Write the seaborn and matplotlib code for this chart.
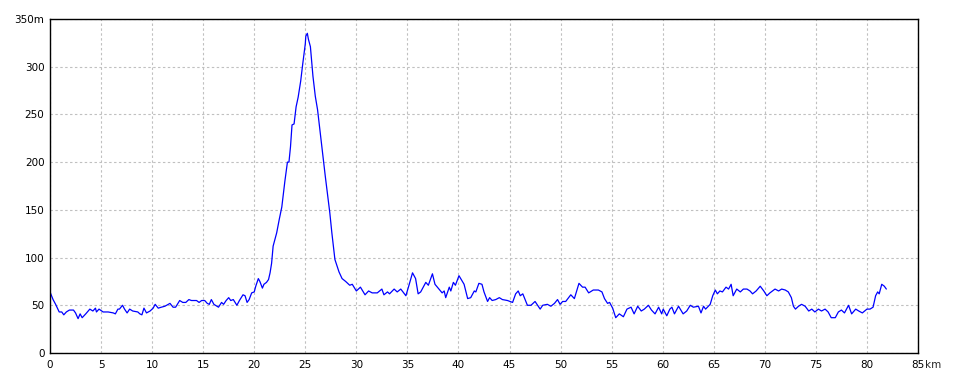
import matplotlib
matplotlib.use("Agg")
import matplotlib.pyplot as plt
import seaborn as sns
import pandas as pd

distance_km = [
    0, 0.3, 0.55, 0.9, 1.15, 1.35, 1.6, 1.9, 2.3, 2.5, 2.75, 2.95, 3.15, 3.5, 3.9, 4.2, 4.45, 4.55, 4.8, 5.2,
    5.7, 6.2, 6.4, 6.65, 6.8, 7.1, 7.3, 7.55, 7.8, 8.1, 8.6, 8.8, 9.0, 9.2, 9.45, 9.8, 10.1, 10.3, 10.6, 10.9,
    11.25, 11.75, 12.05, 12.3, 12.7, 13.0, 13.3, 13.6, 13.85, 14.35, 14.6, 14.85, 15.15, 15.4, 15.6, 15.8, 16.05, 16.5, 16.8, 17.0,
    17.25, 17.5, 17.7, 17.95, 18.3, 18.55, 18.9, 19.1, 19.3, 19.5, 19.75, 20.0, 20.15, 20.4, 20.55, 20.8, 20.95, 21.2, 21.4, 21.55,
    21.7, 21.85, 22.2, 22.45, 22.7, 22.85, 23.0, 23.25, 23.4, 23.55, 23.7, 23.9, 24.1, 24.3, 24.55, 24.75, 25.0, 25.05, 25.2, 25.3,
    25.5, 25.75, 25.98, 26.2, 26.47, 26.73, 26.96, 27.2, 27.4, 27.6, 27.9, 28.3, 28.6, 28.95, 29.35, 29.6, 30.0, 30.4, 30.85, 31.2,
    31.55, 32.05, 32.5, 32.7, 33.05, 33.25, 33.7, 34.0, 34.35, 34.85, 35.1, 35.5, 35.8, 36.05, 36.3, 36.8, 37.05, 37.45, 37.7, 38.25,
    38.4, 38.6, 38.75, 39.1, 39.25, 39.5, 39.7, 40.05, 40.55, 40.9, 41.2, 41.55, 41.7, 42.0, 42.3, 42.5, 42.85, 43.05, 43.3, 43.65,
    44.0, 44.3, 44.8, 45.3, 45.6, 45.85, 46.05, 46.3, 46.75, 47.1, 47.5, 47.75, 48.0, 48.25, 48.7, 49.05, 49.4, 49.7, 49.95, 50.2,
    50.5, 51.0, 51.35, 51.8, 52.15, 52.4, 52.75, 53.2, 53.7, 54.05, 54.3, 54.6, 54.8, 55.1, 55.4, 55.75, 56.15, 56.5, 56.9, 57.2,
    57.55, 57.9, 58.2, 58.6, 58.9, 59.25, 59.6, 59.9, 60.05, 60.4, 60.7, 60.9, 61.15, 61.55, 62.0, 62.35, 62.7, 63.0, 63.5, 63.75,
    64.0, 64.2, 64.65, 64.9, 65.15, 65.35, 65.6, 65.85, 66.2, 66.45, 66.7, 66.9, 67.25, 67.6, 67.9, 68.25, 68.55, 68.8, 69.15, 69.55,
    69.9, 70.2, 70.5, 71.0, 71.35, 71.65, 72.0, 72.3, 72.6, 72.8, 73.0, 73.3, 73.6, 73.95, 74.3, 74.6, 74.9, 75.25, 75.55, 75.9,
    76.2, 76.5, 76.9, 77.2, 77.5, 77.8, 78.2, 78.5, 78.9, 79.2, 79.55, 80.0, 80.3, 80.6, 80.85, 81.05, 81.2, 81.45, 81.7, 81.9,
]

elevation_m = [
    64, 56, 51, 43, 43, 40, 43, 45, 45, 42, 36, 41, 37, 41, 46, 44, 47, 43, 46, 43,
    43, 42, 41, 46, 46, 50, 46, 42, 46, 44, 43, 41, 40, 47, 42, 44, 47, 51, 47, 48,
    49, 52, 48, 48, 55, 53, 53, 56, 55, 55, 53, 55, 55, 52, 51, 56, 51, 48, 53, 51,
    55, 58, 55, 56, 50, 55, 61, 60, 53, 56, 63, 64, 70, 78, 75, 68, 72, 74, 77, 84,
    94, 112, 126, 140, 153, 167, 180, 200, 200, 216, 239, 240, 258, 268, 285, 303, 324, 332, 335, 329,
    321, 290, 269, 255, 230, 206, 185, 164, 147, 126, 98, 85, 78, 75, 71, 72, 65, 69, 61, 65,
    63, 63, 67, 61, 64, 62, 67, 64, 67, 60, 69, 84, 78, 62, 64, 74, 71, 83, 72, 65,
    63, 65, 58, 69, 65, 74, 71, 81, 72, 57, 58, 65, 64, 73, 72, 64, 54, 58, 55, 56,
    58, 56, 55, 53, 62, 65, 60, 62, 50, 50, 54, 50, 46, 50, 51, 49, 52, 56, 51, 54,
    54, 61, 57, 73, 69, 69, 63, 66, 66, 64, 57, 52, 53, 47, 37, 41, 38, 46, 48, 41,
    49, 44, 46, 50, 45, 41, 48, 41, 46, 39, 46, 48, 41, 49, 41, 44, 50, 48, 49, 42,
    49, 46, 51, 60, 66, 62, 65, 64, 69, 67, 72, 60, 67, 64, 67, 67, 65, 62, 65, 70,
    65, 60, 63, 67, 65, 67, 66, 64, 58, 49, 46, 49, 51, 49, 44, 46, 43, 46, 44, 46,
    43, 37, 37, 43, 45, 42, 50, 41, 46, 44, 42, 46, 46, 48, 60, 64, 62, 72, 70, 67,
]

x_ticks = [0, 5, 10, 15, 20, 25, 30, 35, 40, 45, 50, 55, 60, 65, 70, 75, 80, 85]
x_tick_labels = ["0", "5", "10", "15", "20", "25", "30", "35", "40", "45", "50", "55",
                 "60", "65", "70", "75", "80", "85"]
y_ticks = [0, 50, 100, 150, 200, 250, 300, 350]
y_tick_labels = ["0", "50", "100", "150", "200", "250", "300", "350m"]

df = pd.DataFrame({"km": distance_km, "m": elevation_m})

sns.set_style("white")
plt.rcParams["font.family"] = ["DejaVu Sans"]

fig = plt.figure(figsize=(9.6, 3.84), dpi=100)
ax = fig.add_axes([50 / 960, 31 / 384, 868 / 960, 334 / 384])

sns.lineplot(data=df, x="km", y="m", color="#0000ff", linewidth=0.9, ax=ax)

ax.set_xlim(0, 85)
ax.set_ylim(0, 350)
ax.set_xticks(x_ticks)
ax.set_xticklabels(x_tick_labels)
ax.set_yticks(y_ticks)
ax.set_yticklabels(y_tick_labels)
ax.tick_params(axis="both", length=0, labelsize=7.5, colors="black")
ax.tick_params(axis="x", pad=5)
ax.tick_params(axis="y", pad=4)
ax.set_xlabel("")
ax.set_ylabel("")

ax.grid(True, color="#c0c0c0", linestyle=(0, (2.2, 2.2)), linewidth=0.8)
ax.set_axisbelow(True)
for s in ax.spines.values():
    s.set_color("black")
    s.set_linewidth(1.0)

ax.annotate("km", xy=(85, 0), xycoords="data", xytext=(5, -5),
            textcoords="offset points", ha="left", va="top", fontsize=7.5)

fig.savefig("out.png", dpi=100, facecolor="white")
